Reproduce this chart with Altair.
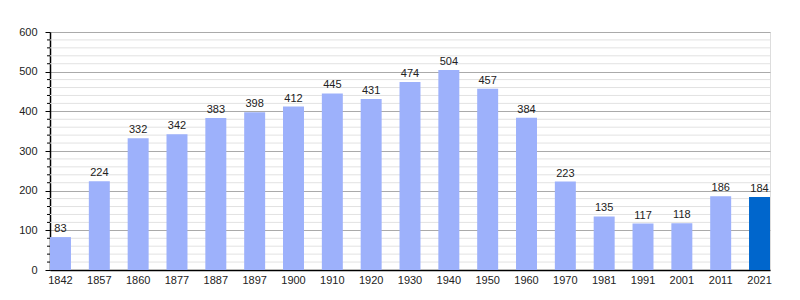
import altair as alt
import pandas as pd

years = ["1842", "1857", "1860", "1877", "1887", "1897", "1900", "1910", "1920", "1930",
         "1940", "1950", "1960", "1970", "1981", "1991", "2001", "2011", "2021"]
population = [83, 224, 332, 342, 383, 398, 412, 445, 431, 474,
              504, 457, 384, 223, 135, 117, 118, 186, 184]
highlight = ["2021"]
major_ticks = [0, 100, 200, 300, 400, 500, 600]
minor_ticks = [v for v in range(20, 600, 20) if v % 100 != 0]

df = pd.DataFrame({"year": years, "pop": population,
                   "hl": [y in highlight for y in years]})
minor_df = pd.DataFrame({"pop": minor_ticks})

FONT = "Liberation Sans"

yscale = alt.Scale(domain=[0, 600], nice=False)
xscale = alt.Scale(paddingInner=0.46, paddingOuter=0)
yaxis = alt.Axis(title=None, values=major_ticks, grid=True, gridColor="#aaaaaa",
                 tickSize=5, tickColor="#000000", domainColor="#000000",
                 domainWidth=1.5,
                 labelFont=FONT, labelFontSize=11, labelColor="#222222",
                 labelPadding=8)

minor_grid = alt.Chart(minor_df).mark_rule(color="#e2e2e2", strokeWidth=1).encode(
    y=alt.Y("pop:Q", scale=yscale, axis=yaxis),
    x=alt.value(0), x2=alt.value(720),
)
minor_tick = alt.Chart(minor_df).mark_rule(color="#000000", strokeWidth=1).encode(
    y=alt.Y("pop:Q", scale=yscale, axis=yaxis),
    x=alt.value(-3), x2=alt.value(0),
)

bars = alt.Chart(df).mark_bar(opacity=1).encode(
    x=alt.X("year:N", sort=years, scale=xscale,
            axis=alt.Axis(title=None, labelAngle=0, ticks=False, domain=True,
                          domainColor="#000000", domainWidth=1.5,
                          labelFont=FONT, labelFontSize=11, labelColor="#222222",
                          labelPadding=4, grid=False)),
    y=alt.Y("pop:Q", scale=yscale, axis=yaxis),
    color=alt.condition(alt.datum.hl, alt.value("#0066cc"), alt.value("#9db1fb")),
)

labels = alt.Chart(df).mark_text(baseline="bottom", dy=-3, font=FONT, fontSize=11,
                                 color="#222222").encode(
    x=alt.X("year:N", sort=years, scale=xscale),
    y=alt.Y("pop:Q", scale=yscale, axis=yaxis),
    text="pop:Q",
)

chart = alt.layer(minor_grid, minor_tick, bars, labels).properties(
    width=720, height=238,
    autosize=alt.AutoSizeParams(type="none"),
    padding={"left": 50, "top": 32, "right": 30, "bottom": 30},
).configure_view(stroke=None).configure(background="white")

chart.save("out.html", embed_options={"renderer": "svg", "actions": False})
